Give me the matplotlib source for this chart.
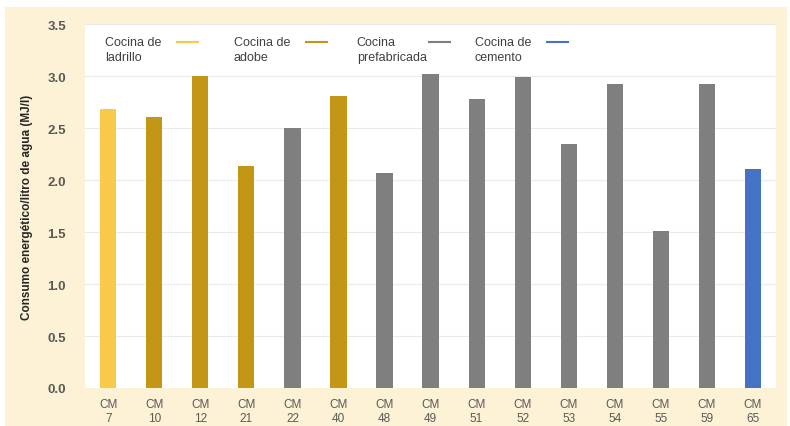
import matplotlib
matplotlib.use("Agg")
import matplotlib.pyplot as plt
from matplotlib.patches import Rectangle

plt.rcParams['font.family'] = ['Liberation Sans', 'DejaVu Sans']

# datos
categorias = ["CM\n7", "CM\n10", "CM\n12", "CM\n21", "CM\n22", "CM\n40", "CM\n48", "CM\n49",
              "CM\n51", "CM\n52", "CM\n53", "CM\n54", "CM\n55", "CM\n59", "CM\n65"]
consumo = [2.68, 2.61, 3.00, 2.14, 2.50, 2.81, 2.07, 3.02, 2.78, 2.99, 2.35, 2.92, 1.51, 2.92, 2.11]
tipo = ["ladrillo", "adobe", "adobe", "adobe", "prefabricada", "adobe", "prefabricada",
        "prefabricada", "prefabricada", "prefabricada", "prefabricada", "prefabricada",
        "prefabricada", "prefabricada", "cemento"]
yticks = [0.0, 0.5, 1.0, 1.5, 2.0, 2.5, 3.0, 3.5]

colores = {"ladrillo": "#FAC94A", "adobe": "#C49616",
           "prefabricada": "#7F7F7F", "cemento": "#4472C4"}
leyenda = [("Cocina de\nladrillo", "ladrillo"), ("Cocina de\nadobe", "adobe"),
           ("Cocina\nprefabricada", "prefabricada"), ("Cocina de\ncemento", "cemento")]

fig = plt.figure(figsize=(7.9, 4.27), dpi=100, facecolor="white")
# marco crema
fig.patches.append(Rectangle((0.006, 0), 0.99, 0.981, transform=fig.transFigure,
                             facecolor="#FEF2D6", edgecolor="none", zorder=-10))
ax = fig.add_axes([0.108, 0.089, 0.874, 0.852])
ax.set_facecolor("white")

x = list(range(len(categorias)))
ax.bar(x, consumo, width=0.35, color=[colores[t] for t in tipo], zorder=3)

ax.set_xlim(-0.5, len(categorias) - 0.5)
ax.set_ylim(0, 3.5)
ax.set_yticks(yticks)
ax.set_yticklabels([f"{v:.1f}" for v in yticks], fontsize=9.5, color="#595959", fontweight="bold")
ax.set_xticks(x)
ax.set_xticklabels(categorias, fontsize=8.5, color="#595959", linespacing=1.3)
ax.tick_params(length=0, axis="y", pad=14)
ax.tick_params(length=0, axis="x", pad=7)
ax.grid(axis="y", color="#EBEBEB", linewidth=0.8, zorder=0)
for s in ax.spines.values():
    s.set_visible(False)

ax.set_ylabel("Consumo energético/litro de agua (MJ/l)", fontsize=8.5,
              fontweight="bold", color="#262626", labelpad=10)

# leyenda manual
xs = [0.028, 0.215, 0.393, 0.564]
for (txt, t), x0 in zip(leyenda, xs):
    ax.text(x0, 0.968, txt, transform=ax.transAxes, fontsize=9, color="#404040",
            va="top", ha="left", linespacing=1.4)
    ax.plot([x0 + 0.105, x0 + 0.135], [0.952, 0.952], transform=ax.transAxes,
            color=colores[t], linewidth=1.5)

fig.savefig("out.png", dpi=100, facecolor=fig.get_facecolor())
